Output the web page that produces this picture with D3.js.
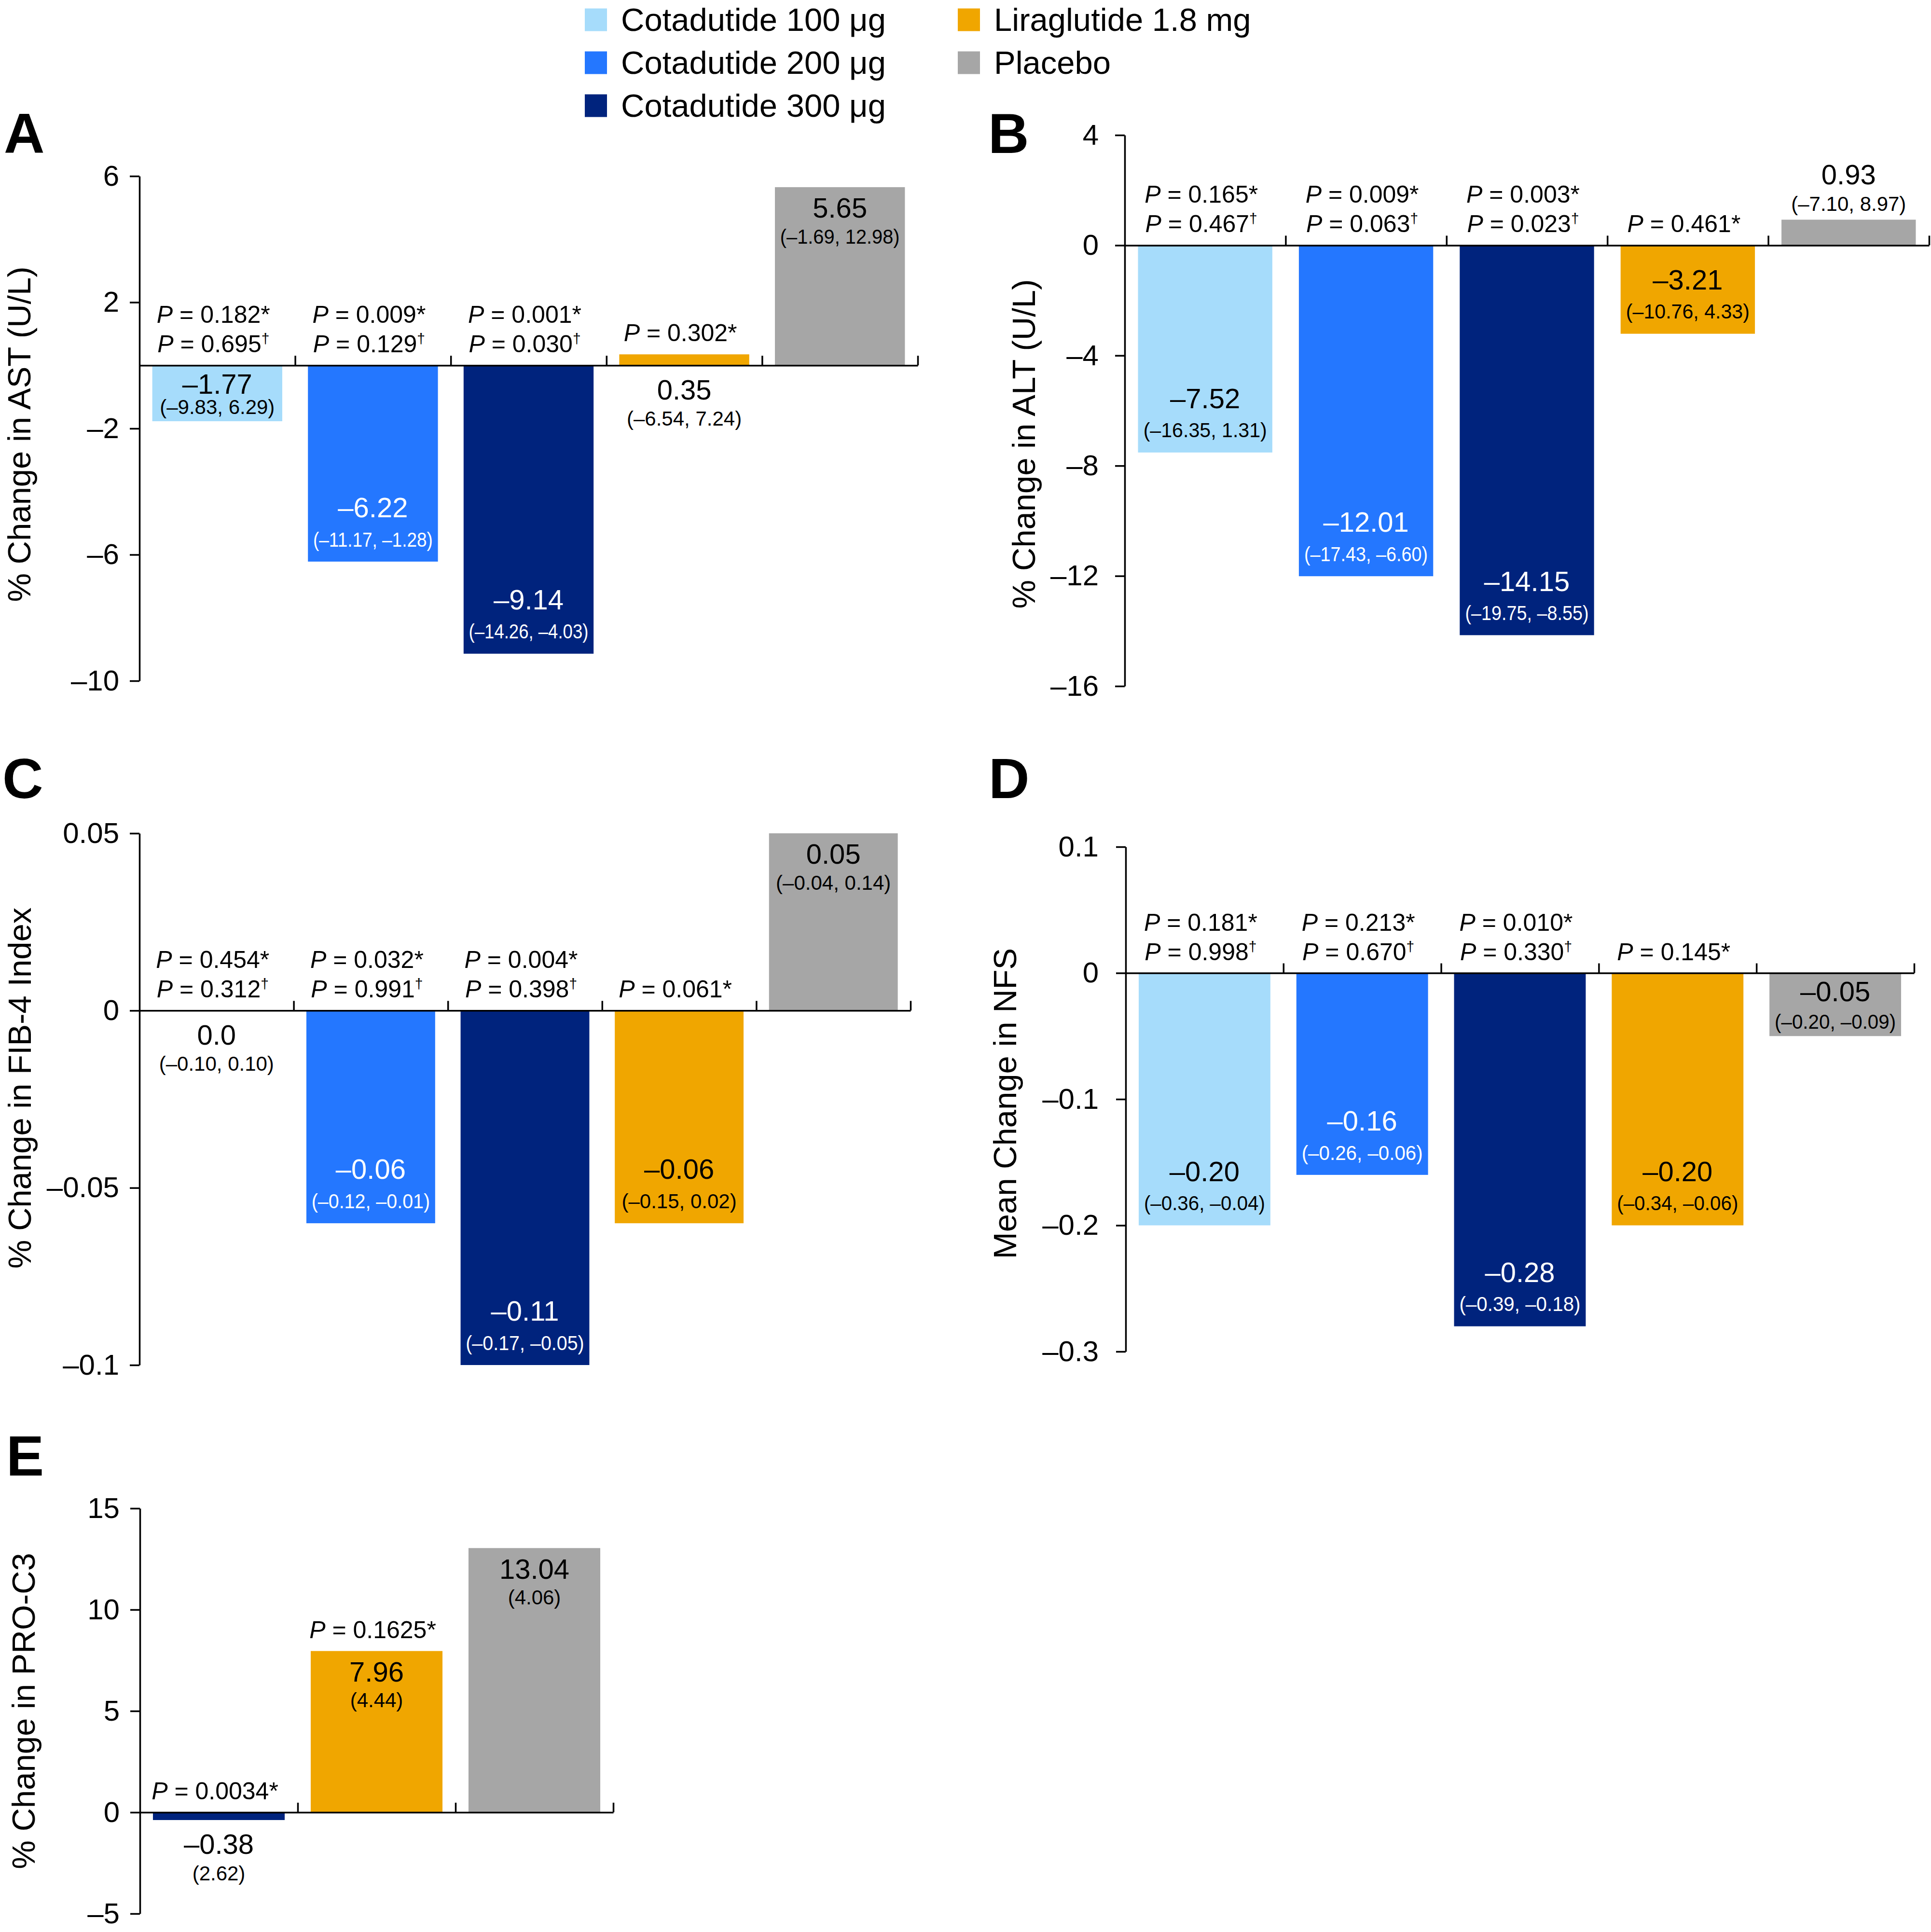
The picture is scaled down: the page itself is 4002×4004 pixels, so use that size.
<!DOCTYPE html>
<html>
<head>
<meta charset="utf-8">
<script src="https://cdn.jsdelivr.net/npm/d3@7"></script>
<style>html,body{margin:0;padding:0;background:#fff;}</style>
</head>
<body>
<svg id="chart"></svg>
<script>
// ---------- DATA ----------
const groups = ["Cotadutide 100 μg", "Cotadutide 200 μg", "Cotadutide 300 μg", "Liraglutide 1.8 mg", "Placebo"];
const groupColors = ["#a6dcfb", "#2477ff", "#00237d", "#f0a600", "#a6a6a6"];

// A: AST
const astValues = [-1.77, -6.22, -9.14, 0.35, 5.65];
const astLow = [-9.83, -11.17, -14.26, -6.54, -1.69];
const astHigh = [6.29, -1.28, -4.03, 7.24, 12.98];
const astPStar = ["0.182", "0.009", "0.001", "0.302", null];
const astPDagger = ["0.695", "0.129", "0.030", null, null];
const astTicks = [6, 2, -2, -6, -10];

// B: ALT
const altValues = [-7.52, -12.01, -14.15, -3.21, 0.93];
const altLow = [-16.35, -17.43, -19.75, -10.76, -7.10];
const altHigh = [1.31, -6.60, -8.55, 4.33, 8.97];
const altPStar = ["0.165", "0.009", "0.003", "0.461", null];
const altPDagger = ["0.467", "0.063", "0.023", null, null];
const altTicks = [4, 0, -4, -8, -12, -16];

// C: FIB-4
const fib4Values = [0.0, -0.06, -0.11, -0.06, 0.05];
const fib4Low = [-0.10, -0.12, -0.17, -0.15, -0.04];
const fib4High = [0.10, -0.01, -0.05, 0.02, 0.14];
const fib4PStar = ["0.454", "0.032", "0.004", "0.061", null];
const fib4PDagger = ["0.312", "0.991", "0.398", null, null];
const fib4Ticks = [0.05, 0, -0.05, -0.1];

// D: NFS
const nfsValues = [-0.20, -0.16, -0.28, -0.20, -0.05];
const nfsLow = [-0.36, -0.26, -0.39, -0.34, -0.20];
const nfsHigh = [-0.04, -0.06, -0.18, -0.06, -0.09];
const nfsPStar = ["0.181", "0.213", "0.010", "0.145", null];
const nfsPDagger = ["0.998", "0.670", "0.330", null, null];
const nfsTicks = [0.1, 0, -0.1, -0.2, -0.3];

// E: PRO-C3
const proc3Groups = ["Cotadutide 300 μg", "Liraglutide 1.8 mg", "Placebo"];
const proc3Values = [-0.38, 7.96, 13.04];
const proc3SE = [2.62, 4.44, 4.06];
const proc3PStar = ["0.0034", "0.1625", null];
const proc3Ticks = [15, 10, 5, 0, -5];

// ---------- DRAWING ----------
const W = 4002, H = 4004;
const FONT = "'Liberation Sans', Arial, Helvetica, sans-serif";
const svg = d3.select("#chart").attr("width", W).attr("height", H).attr("viewBox", `0 0 ${W} ${H}`);
svg.append("rect").attr("width", W).attr("height", H).attr("fill", "#fff");

const colorOf = d3.scaleOrdinal().domain(groups).range(groupColors);
const dash = s => String(s).replace(/[-\u2212]/g, "\u2013");
const f2 = d3.format(".2f");
const fmt2 = v => dash(f2(v));
const ciPair = (lo, hi) => i => `(${fmt2(lo[i])}, ${fmt2(hi[i])})`;
const ciSingle = se => i => `(${fmt2(se[i])})`;

// Legend
const legendCols = [groups.slice(0, 3), groups.slice(3)];
const legendX = [1212, 1985];
legendCols.forEach((col, ci) => {
  const lg = svg.append("g").attr("font-family", FONT).attr("font-size", 67);
  col.forEach((name, ri) => {
    const cy = 41 + ri * 89;
    lg.append("rect").attr("x", legendX[ci]).attr("y", cy - 23.5).attr("width", 46).attr("height", 47).attr("fill", colorOf(name));
    lg.append("text").attr("x", legendX[ci] + 75).attr("y", cy + 23).attr("fill", "#000").text(name);
  });
});

function drawPanel(p) {
  const g = svg.append("g");
  const n = p.groups.length;
  const x = d3.scaleBand().domain(p.groups).range([p.x0, p.x1]).paddingInner(0.165).paddingOuter(0.0825);
  const y = d3.scaleLinear().domain(p.domain).range([p.yBot, p.yTop]).clamp(true);
  const y0 = y(0);
  const rows = p.values.map((v, i) => ({ g: p.groups[i], v, i }));

  // panel letter
  svg.append("text").attr("x", p.lx).attr("y", p.ly).attr("font-family", FONT)
    .attr("font-weight", "bold").attr("font-size", 117).attr("fill", "#000").text(p.letter);

  // y title
  svg.append("text").attr("transform", `translate(${p.tx},${p.ty}) rotate(-90)`)
    .attr("text-anchor", "middle").attr("font-family", FONT).attr("font-size", 67)
    .attr("fill", "#000").text(p.title);

  // bars
  g.selectAll("rect.bar").data(rows).join("rect").attr("class", "bar")
    .attr("x", d => x(d.g)).attr("width", x.bandwidth())
    .attr("y", d => Math.min(y(d.v), y0)).attr("height", d => Math.abs(y(d.v) - y0))
    .attr("fill", d => colorOf(d.g));

  // y axis
  const yAxis = d3.axisLeft(y).tickValues(p.ticks).tickFormat(d => dash(d))
    .tickSize(20).tickSizeOuter(0).tickPadding(p.tickPad);
  const ya = g.append("g").attr("transform", `translate(${p.x0},0)`).call(yAxis);
  ya.attr("font-family", FONT).attr("font-size", 60);
  ya.selectAll("path,line").attr("stroke", "#000").attr("stroke-width", 3.5);
  ya.selectAll("text").attr("fill", "#000");

  // x axis (category separators)
  const xi = d3.scaleLinear().domain([0, n]).range([p.x0, p.x1]);
  const xa = g.append("g").attr("transform", `translate(0,${y0})`)
    .call(d3.axisTop(xi).tickValues(d3.range(1, n + 1)).tickSize(20).tickSizeOuter(0).tickFormat(""));
  xa.selectAll("path,line").attr("stroke", "#000").attr("stroke-width", 3.5);

  // labels
  const lab = g.append("g").attr("font-family", FONT).attr("text-anchor", "middle");
  rows.forEach(d => {
    const cx = x(d.g) + x.bandwidth() / 2;
    const yv = y(d.v);
    const h = Math.abs(yv - y0);
    const hasP = p.pStar[d.i] != null;
    const inside = h >= 90;
    let vy, cy;
    if (inside) {
      if (d.v > 0) { vy = yv + 43; cy = yv + 102; }
      else { vy = Math.max(yv - 112, y0 + 38); cy = Math.min(vy + 66, yv - 30); }
    } else if (d.v >= 0 && !hasP) {
      vy = yv - 94; cy = yv - 33;
    } else {
      const b = Math.max(y0, yv);
      vy = b + 50; cy = b + 110;
    }
    const fill = inside && d3.lab(colorOf(d.g)).l < 60 ? "#fff" : "#000";
    lab.append("text").attr("x", cx).attr("y", vy).attr("dy", "0.35em")
      .attr("font-size", 58).attr("fill", fill).text(p.fmt(d.v));
    const ci = lab.append("text").attr("x", cx).attr("y", cy).attr("dy", "0.35em")
      .attr("font-size", 42).attr("fill", fill).text(p.ci(d.i));
    const maxW = x.bandwidth() * 0.92;
    if (ci.node().getComputedTextLength() > maxW) {
      ci.attr("textLength", maxW).attr("lengthAdjust", "spacingAndGlyphs");
    }

    // P values
    const base = Math.min(y0, yv);
    const lines = [];
    if (p.pStar[d.i]) lines.push([p.pStar[d.i], "*"]);
    if (p.pDagger && p.pDagger[d.i]) lines.push([p.pDagger[d.i], "†"]);
    lines.forEach((ln, k) => {
      const by = base - 27 - (lines.length - 1 - k) * 61;
      const t = lab.append("text").attr("x", cx - 8).attr("y", by).attr("font-size", 50).attr("fill", "#000");
      t.append("tspan").attr("font-style", "italic").text("P");
      t.append("tspan").text(" = " + ln[0]);
      if (ln[1] === "*") t.append("tspan").text("*");
      else t.append("tspan").attr("font-size", 30).attr("dy", -18).text("†");
    });
  });
}

const zeroAsOne = v => (v === 0 ? "0.0" : fmt2(v));

drawPanel({ letter: "A", lx: 8, ly: 317, title: "% Change in AST (U/L)", tx: 63, ty: 900,
  groups: groups, values: astValues, ci: ciPair(astLow, astHigh), fmt: fmt2,
  pStar: astPStar, pDagger: astPDagger, ticks: astTicks, domain: [-10, 6],
  x0: 289, x1: 1902, yTop: 365, yBot: 1411, tickPad: 22 });

drawPanel({ letter: "B", lx: 2048, ly: 317, title: "% Change in ALT (U/L)", tx: 2145, ty: 920,
  groups: groups, values: altValues, ci: ciPair(altLow, altHigh), fmt: fmt2,
  pStar: altPStar, pDagger: altPDagger, ticks: altTicks, domain: [-16, 4],
  x0: 2331, x1: 3998, yTop: 280, yBot: 1422, tickPad: 34 });

drawPanel({ letter: "C", lx: 5, ly: 1654, title: "% Change in FIB-4 Index", tx: 64, ty: 2255,
  groups: groups, values: fib4Values, ci: ciPair(fib4Low, fib4High), fmt: zeroAsOne,
  pStar: fib4PStar, pDagger: fib4PDagger, ticks: fib4Ticks, domain: [-0.1, 0.05],
  x0: 289, x1: 1887, yTop: 1727, yBot: 2829, tickPad: 22 });

drawPanel({ letter: "D", lx: 2049, ly: 1654, title: "Mean Change in NFS", tx: 2106, ty: 2287,
  groups: groups, values: nfsValues, ci: ciPair(nfsLow, nfsHigh), fmt: fmt2,
  pStar: nfsPStar, pDagger: nfsPDagger, ticks: nfsTicks, domain: [-0.3, 0.1],
  x0: 2333, x1: 3967, yTop: 1755, yBot: 2801, tickPad: 36 });

drawPanel({ letter: "E", lx: 13, ly: 3058, title: "% Change in PRO-C3", tx: 72, ty: 3546,
  groups: proc3Groups, values: proc3Values, ci: ciSingle(proc3SE), fmt: fmt2,
  pStar: proc3PStar, pDagger: null, ticks: proc3Ticks, domain: [-5, 15],
  x0: 290, x1: 1271, yTop: 3126, yBot: 3966, tickPad: 22 });
</script>
</body>
</html>
